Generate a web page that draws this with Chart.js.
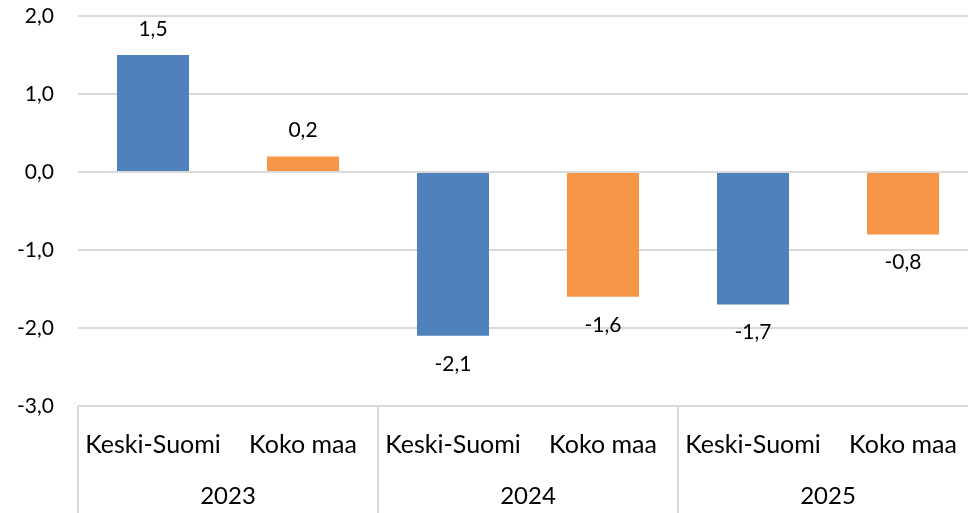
<!DOCTYPE html>
<html>
<head>
<meta charset="utf-8">
<script src="https://cdn.jsdelivr.net/npm/chart.js@4.4.1/dist/chart.umd.min.js"></script>
<style>
  html, body { margin: 0; padding: 0; background: #fff; overflow: hidden; }
  #wrap { width: 978px; height: 513px; }
</style>
</head>
<body>
<div id="wrap"><canvas id="chart" width="978" height="513"></canvas></div>
<script>
const categories = ["Keski-Suomi", "Koko maa", "Keski-Suomi", "Koko maa", "Keski-Suomi", "Koko maa"]
const years = ["2023", "2024", "2025"]
const values = [1.5, 0.2, -2.1, -1.6, -1.7, -0.8]
const barColors = ["#4F81BD", "#F79646", "#4F81BD", "#F79646", "#4F81BD", "#F79646"]

const FONT = "Lato, 'Open Sans', sans-serif"
const NUM_SIZE = 21
const CAT_SIZE = 25
const YEAR_SIZE = 24
const fmt = v => v.toFixed(1).replace(".", ",").replace("-0,0", "0,0")

// arvot pylväiden päälle / alle
const valueLabels = {
  id: "valueLabels",
  afterDatasetsDraw(chart) {
    const ctx = chart.ctx
    const meta = chart.getDatasetMeta(0)
    ctx.save()
    ctx.font = NUM_SIZE + "px " + FONT
    ctx.fillStyle = "#000"
    ctx.textAlign = "center"
    ctx.textBaseline = "middle"
    meta.data.forEach((bar, i) => {
      const v = values[i]
      const y = v >= 0 ? bar.y - 26 : bar.y + 28
      ctx.fillText(fmt(v), bar.x, y)
    })
    ctx.restore()
  }
}

// vuosirivi ja erottimet
const yearAxis = {
  id: "yearAxis",
  afterDraw(chart) {
    const ctx = chart.ctx
    const x = chart.scales.x
    const step = x.getPixelForValue(1) - x.getPixelForValue(0)
    const top = chart.chartArea.bottom
    ctx.save()
    ctx.strokeStyle = "#D9D9D9"
    ctx.lineWidth = 2
    for (let g = 0; g <= years.length; g++) {
      const px = x.getPixelForValue(g * 2) - step / 2
      ctx.beginPath()
      ctx.moveTo(px, top)
      ctx.lineTo(px, chart.height)
      ctx.stroke()
    }
    ctx.font = YEAR_SIZE + "px " + FONT
    ctx.fillStyle = "#000"
    ctx.textAlign = "center"
    ctx.textBaseline = "middle"
    years.forEach((yr, g) => {
      const cx = (x.getPixelForValue(g * 2) + x.getPixelForValue(g * 2 + 1)) / 2
      ctx.fillText(yr, cx, 496)
    })
    ctx.restore()
  }
}

new Chart(document.getElementById("chart"), {
  type: "bar",
  data: {
    labels: categories,
    datasets: [{
      data: values,
      backgroundColor: barColors,
      barPercentage: 0.48,
      categoryPercentage: 1.0
    }]
  },
  options: {
    responsive: false,
    animation: false,
    layout: { padding: { top: 16, left: 0, right: 0, bottom: 0 } },
    plugins: {
      legend: { display: false },
      tooltip: { enabled: false }
    },
    scales: {
      y: {
        min: -3,
        max: 2,
        ticks: {
          stepSize: 1,
          color: "#000",
          font: { family: FONT, size: NUM_SIZE },
          padding: 24,
          callback: v => fmt(v)
        },
        grid: { color: "#D9D9D9", lineWidth: 2, drawTicks: false },
        border: { display: false },
        afterFit(s) {
          s.width = 78
          s.paddingTop = 0
          s.paddingBottom = 0
        }
      },
      x: {
        ticks: {
          color: "#000",
          font: { family: FONT, size: CAT_SIZE },
          padding: 16,
          maxRotation: 0,
          autoSkip: false
        },
        grid: { display: false },
        border: { display: false },
        afterFit(s) {
          s.height = 107
          s.paddingLeft = 0
          s.paddingRight = 0
        }
      }
    }
  },
  plugins: [valueLabels, yearAxis]
})
</script>
</body>
</html>
